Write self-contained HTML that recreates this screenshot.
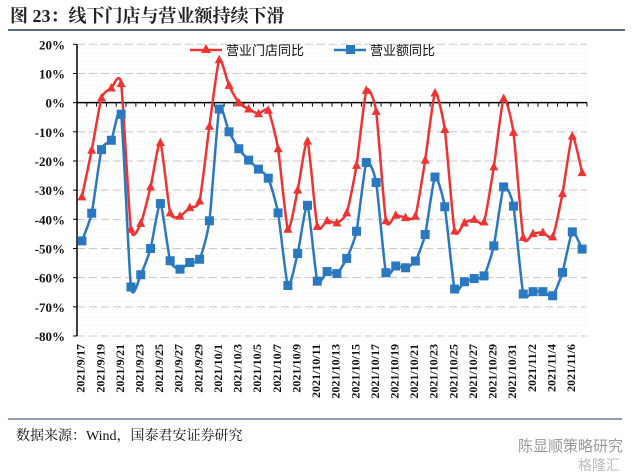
<!DOCTYPE html>
<html><head><meta charset="utf-8"><style>
body{margin:0;background:#fff;}
svg{display:block;}
</style></head><body>
<svg id="c" width="644" height="475" xmlns="http://www.w3.org/2000/svg">
<defs><pattern id="dots" width="4" height="4" patternUnits="userSpaceOnUse"><rect width="4" height="4" fill="#fff"/><circle cx="1" cy="1" r="0.5" fill="#e8e8e8"/></pattern></defs>
<text x="10" y="22" font-family="'Liberation Serif','Noto Serif CJK SC',serif" font-weight="bold" font-size="18" fill="#222">图 23：线下门店与营业额持续下滑</text>
<line x1="8" y1="30" x2="625" y2="30" stroke="#1f3864" stroke-width="1.5"/>
<rect x="77" y="44" width="510" height="292" fill="url(#dots)"/>
<g id="grid"></g><g id="axes"></g><g id="series"></g>
<g>
<line x1="190" y1="50" x2="222" y2="50" stroke="#ee3333" stroke-width="2.5"/>
<polygon points="206,44 211,53 201,53" fill="#ee3333"/>
<text x="226" y="55" font-family="'Liberation Sans','Noto Sans CJK SC',sans-serif" font-size="13" fill="#111">营业门店同比</text>
<line x1="334" y1="50" x2="366" y2="50" stroke="#2a78c0" stroke-width="2.5"/>
<rect x="346" y="45" width="9" height="9" fill="#2a78c0"/>
<text x="370" y="55" font-family="'Liberation Sans','Noto Sans CJK SC',sans-serif" font-size="13" fill="#111">营业额同比</text>
</g>
<line x1="8" y1="419" x2="622" y2="419" stroke="#1f3864" stroke-width="1"/>
<text x="16" y="440" font-family="'Liberation Serif','Noto Serif CJK SC',serif" font-size="14" fill="#111">数据来源：Wind，国泰君安证券研究</text>
<text x="518" y="451" font-family="'Liberation Sans','Noto Sans CJK SC',sans-serif" font-size="15" fill="#999">陈显顺策略研究</text>
<text x="578" y="470" font-family="'Liberation Sans','Noto Sans CJK SC',sans-serif" font-size="14" fill="#bbb">格隆汇</text>
</svg>
<script>
const dates=[];
(function(){const d=new Date(2021,8,17);for(let i=0;i<52;i++){dates.push('2021/'+(d.getMonth()+1)+'/'+d.getDate());d.setDate(d.getDate()+1);}})();
const yTicks=[20,10,0,-10,-20,-30,-40,-50,-60,-70,-80];
const storeYoY=[-32.3,-16.3,1.6,5,6.5,-43.4,-41.4,-28.9,-13.7,-37.8,-38.9,-36,-33.7,-8.1,14.7,5.9,-0.1,-2.2,-3.8,-2.6,-15.8,-43.4,-30,-13.2,-42.4,-40.5,-41.2,-37.8,-21.5,4.2,-3,-40.5,-38.6,-39.4,-38.9,-19.7,3.3,-9.2,-44,-41.2,-40,-40.9,-22,1.4,-10.2,-46.2,-44.9,-44.5,-46,-31.2,-11.5,-24];
const revenueYoY=[-47.4,-37.9,-16.1,-12.9,-4,-63.2,-59,-50,-34.6,-54.2,-57.1,-54.8,-53.7,-40.5,-2.2,-10,-15.8,-19.7,-22.8,-25.9,-37.8,-62.7,-51.7,-35.2,-61.2,-57.9,-58.6,-53.4,-44.1,-20.5,-27.4,-58.3,-56,-56.6,-54.3,-45.2,-25.5,-35.7,-63.9,-61.4,-60.3,-59.4,-49.1,-28.9,-35.5,-65.6,-64.8,-64.8,-66.2,-58.2,-44.3,-50.2];
const NS='http://www.w3.org/2000/svg';
const X0=77,X1=587,Y0=44.3,Y1=336;
const bw=(X1-X0)/dates.length;
const xs=i=>X0+bw*(i+0.5);
const ys=v=>Y0+(20-v)/100*(Y1-Y0);
function mk(tag,attrs,parent){const e=document.createElementNS(NS,tag);for(const k in attrs)e.setAttribute(k,attrs[k]);parent.appendChild(e);return e;}
const grid=document.getElementById('grid'),axes=document.getElementById('axes'),ser=document.getElementById('series');
yTicks.forEach(t=>{
  const y=ys(t);
  if(t!==0){const g=mk('line',{x1:X0,y1:y,x2:X1,y2:y,stroke:'#c8c8c8','stroke-dasharray':'8,4'},grid);
  
  }
  mk('line',{x1:X0-4,y1:y,x2:X0,y2:y,stroke:'#000'},axes);
  const tx=mk('text',{x:X0-12,y:y+5,'text-anchor':'end','font-family':'Liberation Serif,serif','font-weight':'bold','font-size':'13',fill:'#111'},axes);
  tx.textContent=t+'%';
  
  
});
const ya=mk('line',{x1:X0,y1:Y0,x2:X0,y2:Y1,stroke:'#000','stroke-width':1.5},axes);


const z=ys(0);
const xa=mk('line',{x1:X0,y1:z,x2:X1,y2:z,stroke:'#000','stroke-width':1.5},axes);


for(let i=0;i<=dates.length;i++)mk('line',{x1:X0+bw*i,y1:z,x2:X0+bw*i,y2:z+4,stroke:'#000'},axes);
dates.forEach((d,i)=>{if(i%2)return;
  const x=xs(i),y=Y1+8;
  const t=mk('text',{x:x,y:y,transform:`rotate(-90 ${x} ${y})`,'text-anchor':'end','font-family':'Liberation Serif,serif','font-weight':'bold','font-size':'12',fill:'#111','dominant-baseline':'middle'},axes);
  t.textContent=d;
  
  
});
function smooth(vals){
  const p=vals.map((v,i)=>[xs(i),ys(v)]);let d='M'+p[0][0]+','+p[0][1];
  for(let i=0;i<p.length-1;i++){const a=p[i-1]||p[i],b=p[i],c=p[i+1],e=p[i+2]||c;const t=0.1;
    d+=` C${b[0]+(c[0]-a[0])*t},${b[1]+(c[1]-a[1])*t} ${c[0]-(e[0]-b[0])*t},${c[1]-(e[1]-b[1])*t} ${c[0]},${c[1]}`;}
  return d;}
const lr=mk('path',{d:smooth(storeYoY),fill:'none',stroke:'#ee3333','stroke-width':2.5},ser);


const lb=mk('path',{d:smooth(revenueYoY),fill:'none',stroke:'#2a78c0','stroke-width':2.5},ser);


storeYoY.forEach((v,i)=>{const x=xs(i),y=ys(v);
  const m=mk('polygon',{points:`${x},${y-5} ${x+4.5},${y+3.5} ${x-4.5},${y+3.5}`,fill:'#ee3333'},ser);
  
  });
revenueYoY.forEach((v,i)=>{const x=xs(i),y=ys(v);
  const m=mk('rect',{x:x-4.5,y:y-4.5,width:9,height:9,fill:'#2a78c0'},ser);
  
  });
</script>
</body></html>
